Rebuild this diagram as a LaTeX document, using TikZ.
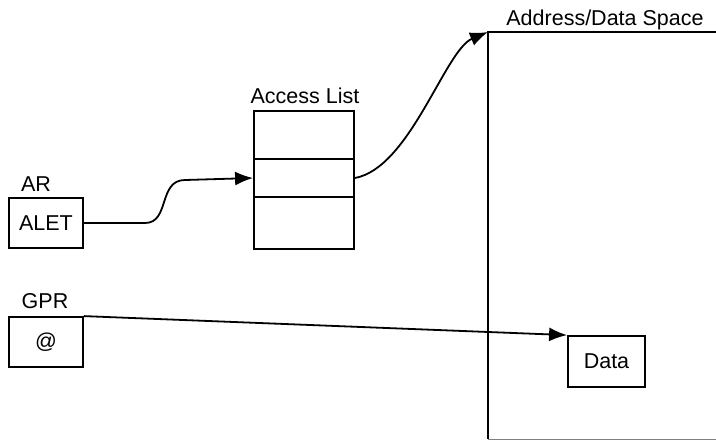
\documentclass[tikz,border=0pt]{standalone}
\usepackage{fontspec}
\setmainfont{Liberation Sans}
\usetikzlibrary{arrows.meta}

\tikzset{
  regbox/.style={draw, line width=1.8pt, inner sep=0pt, minimum width=74pt, minimum height=50pt},
  listrow/.style={draw, line width=1.8pt, inner sep=0pt, minimum width=100pt},
  tag/.style={anchor=base},
}

\begin{document}
\begin{tikzpicture}[x=1pt, y=-1pt, >={Latex[length=18pt,width=14pt]},
    font=\fontsize{21.5}{25}\selectfont, line width=1.8pt]
  \useasboundingbox (0,0) rectangle (716,440);

  % --- registros ---
  \node[regbox] (alet) at (46,223) {ALET};
  \node[tag] (arlabel) at (36,191) {AR};
  \node[regbox] (gpr) at (46,342) {@};
  \node[tag] (gprlabel) at (45,308) {GPR};

  % --- access list ---
  \node[listrow, minimum height=48pt] (row1) at (304,135) {};
  \node[listrow, minimum height=38pt] (row2) at (304,178) {};
  \node[listrow, minimum height=52pt] (row3) at (304,223) {};
  \node[tag] (allabel) at (305,103) {Access List};

  % --- address/data space ---
  \coordinate (corner) at (488,32);
  \draw[line width=2pt] (718,32) -- (corner) -- (488,439);
  \draw[gray, line width=1pt] (488,439) -- (718,439);
  \node[tag] (spacelabel) at (605,25) {Address/Data Space};
  \node[regbox, minimum width=77pt, minimum height=51pt] (data) at (606.5,361.5) {Data};

  % --- conectores ---
  \draw[->] (alet.east) -- (145,223) .. controls (170,223) and (158,180) .. (185,180) -- (row2.west);
  \draw[->] (row2.east) .. controls (410,168) and (445,50) .. (corner);
  \draw[->] (gpr.north east) -- (data.north west);
\end{tikzpicture}
\end{document}
